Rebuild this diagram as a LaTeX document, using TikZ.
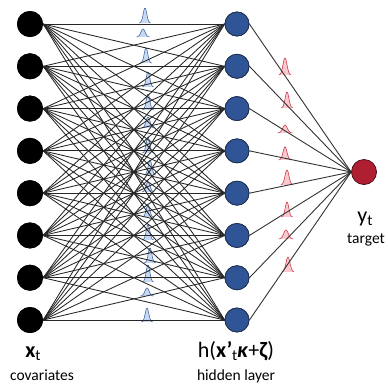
\documentclass[tikz,border=0pt]{standalone}
\usepackage{fontspec}
\setmainfont{Carlito}
\definecolor{nblue}{HTML}{2F5597}
\definecolor{nbluedark}{HTML}{1F2F4F}
\definecolor{nred}{HTML}{B01E32}
\definecolor{nreddark}{HTML}{4A0C14}
\definecolor{bbfill}{HTML}{C8D8F0}
\definecolor{bbline}{HTML}{4468A8}
\definecolor{rbfill}{HTML}{F9C9D0}
\definecolor{rbline}{HTML}{D0384C}
\tikzset{
  inp/.style={circle,fill=black,minimum size=26pt,inner sep=0pt},
  hid/.style={circle,fill=nblue,draw=nbluedark,line width=0.8pt,minimum size=24pt,inner sep=0pt},
  outn/.style={circle,fill=nred,draw=nreddark,line width=0.8pt,minimum size=25pt,inner sep=0pt},
  conn/.style={draw=black!85,line width=0.85pt},
  conn2/.style={draw=black!80,line width=0.9pt},
  bbump/.style={draw=bbline,fill=bbfill,line width=0.6pt},
  rbump/.style={draw=rbline,fill=rbfill,line width=0.6pt},
  biglab/.style={font=\fontsize{22}{24}\selectfont,anchor=base,inner sep=0pt},
  smalllab/.style={font=\fontsize{15.5}{17}\selectfont,anchor=base,inner sep=0pt}
}
\newcommand{\gb}[5]{\path[#5] plot[domain=-3.2:3.2,samples=40,smooth] ({#1+#4*\x},{#2-#3*exp(-(\x)^2/2)});}
\newcommand{\mysub}[1]{\raisebox{-0.35ex}{\scalebox{0.7}{#1}}}
\begin{document}
\begin{tikzpicture}[x=1pt,y=-1pt]
\useasboundingbox (0,0) rectangle (388,384);
% blue bumps
\foreach \bx/\by/\bh/\bs in {145/23/15/1.8,143/37/8/2.1,146/63/15/1.8,148/87/15/1.8,148/110/16/1.8,148/128/11/2.0,148/153/16/1.8,150/175/15/1.8,148/192/10/2.0,148/217/12/1.8,148/240/15/1.8,150/263/15/1.8,148/282/17/1.8,147/296/8/2.1,147/322/14/1.8}
  {\gb{\bx}{\by}{\bh}{\bs}{bbump}}
% red bumps
\foreach \bx/\by/\bh/\bs in {285/75/17/2.0,287/108/16/1.9,285/133/8/2.3,285/160/13/2.0,287/185/15/2.0,287/217/15/1.8,286/239/9/2.3,288/272/15/2.0}
  {\gb{\bx}{\by}{\bh}{\bs}{rbump}}
% nodes
\foreach \i in {1,...,8} {
  \node[inp] (x\i) at (30,{24+(\i-1)*42.29}) {};
  \node[hid] (h\i) at (237,{24+(\i-1)*42.29}) {};
}
\node[outn] (y) at (364,172) {};
% connectors
\foreach \i in {1,...,8} {
  \foreach \j in {1,...,8} {
    \draw[conn] (x\i.east) -- (h\j.west);
  }
  \draw[conn2] (h\i.east) -- (y.west);
}
% redraw nodes on top
\foreach \i in {1,...,8} {
  \node[inp] at (x\i) {};
  \node[hid] at (h\i) {};
}
% labels
\node[biglab] (xl) at (33,357) {\textbf{x}\mysub{t}};
\node[smalllab] (cl) at (42,380) {covariates};
\node[biglab] (hl) at (236,357) {h(\textbf{x’}\mysub{t}\textbf{\textit{κ}}+\textbf{ζ})};
\node[smalllab] (hll) at (236,380) {hidden layer};
\node[biglab] (yl) at (365,222) {y\mysub{t}};
\node[smalllab] (tl) at (366,243) {target};
\end{tikzpicture}
\end{document}
